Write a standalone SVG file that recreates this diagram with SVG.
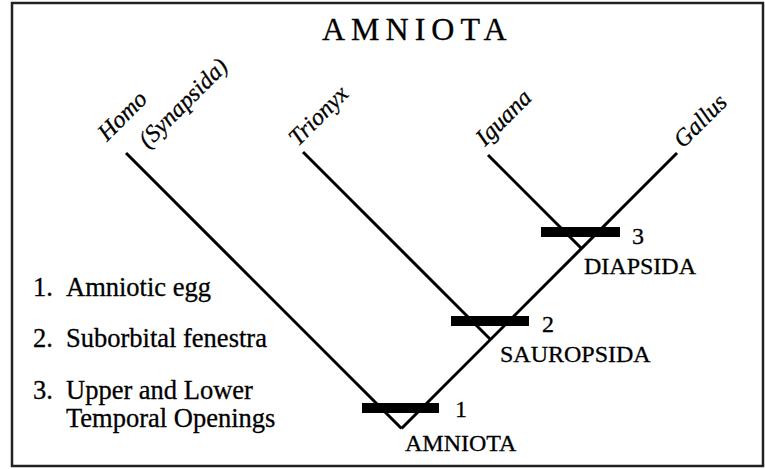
<svg xmlns="http://www.w3.org/2000/svg" width="765" height="469" viewBox="0 0 765 469">
  <style>
    text { font-family: "Liberation Serif", "Times New Roman", serif; fill: #000; stroke: #000; stroke-width: 0.3px; }
    .title { font-size: 32px; letter-spacing: 6px; }
    .taxon { font-size: 24px; font-style: italic; }
    .clade { font-size: 24px; }
    .num { font-size: 24px; }
    .legend { font-size: 26.5px; }
    .branch { stroke: #000; stroke-width: 3; stroke-linecap: butt; fill: none; }
    .bar { fill: #000; }
  </style>

  <rect x="0" y="0" width="765" height="469" fill="#fff"/>
  <!-- frame -->
  <rect x="12" y="3" width="751" height="463" fill="none" stroke="#222" stroke-width="2.5"/>

  <text class="title" x="322" y="40">AMNIOTA</text>

  <!-- branches -->
  <g id="connectors">
    <line class="branch" x1="126" y1="153" x2="401.5" y2="428.5"/>
    <line class="branch" x1="677" y1="153" x2="401.5" y2="428.5"/>
    <line class="branch" x1="303" y1="152" x2="490.5" y2="339.5"/>
    <line class="branch" x1="488" y1="155" x2="581.5" y2="248.5"/>
  </g>

  <!-- terminal taxa -->
  <g id="homo">
    <text class="taxon" transform="translate(107,142) rotate(-45)">Homo</text>
    <text class="taxon" transform="translate(148,149) rotate(-45)">(Synapsida)</text>
  </g>
  <g id="trionyx">
    <text class="taxon" transform="translate(298,147) rotate(-45)">Trionyx</text>
  </g>
  <g id="iguana">
    <text class="taxon" transform="translate(485,147) rotate(-45)">Iguana</text>
  </g>
  <g id="gallus">
    <text class="taxon" transform="translate(683,149) rotate(-45)">Gallus</text>
  </g>

  <!-- clade nodes with character bars -->
  <g id="amniota">
    <rect class="bar" x="362" y="403" width="77" height="10"/>
    <text class="num" x="455" y="417">1</text>
    <text class="clade" x="405" y="451">AMNIOTA</text>
  </g>
  <g id="sauropsida">
    <rect class="bar" x="451" y="316" width="78" height="10"/>
    <text class="num" x="542" y="332">2</text>
    <text class="clade" x="500" y="362">SAUROPSIDA</text>
  </g>
  <g id="diapsida">
    <rect class="bar" x="541" y="227" width="79" height="10"/>
    <text class="num" x="632" y="244">3</text>
    <text class="clade" x="584" y="274">DIAPSIDA</text>
  </g>

  <!-- character legend -->
  <g id="legend">
    <text class="legend" x="33" y="296">1.</text>
    <text class="legend" x="66" y="296">Amniotic egg</text>
    <text class="legend" x="33" y="347">2.</text>
    <text class="legend" x="66" y="347">Suborbital fenestra</text>
    <text class="legend" x="33" y="399">3.</text>
    <text class="legend" x="66" y="399">Upper and Lower</text>
    <text class="legend" x="66" y="427">Temporal Openings</text>
  </g>
</svg>
